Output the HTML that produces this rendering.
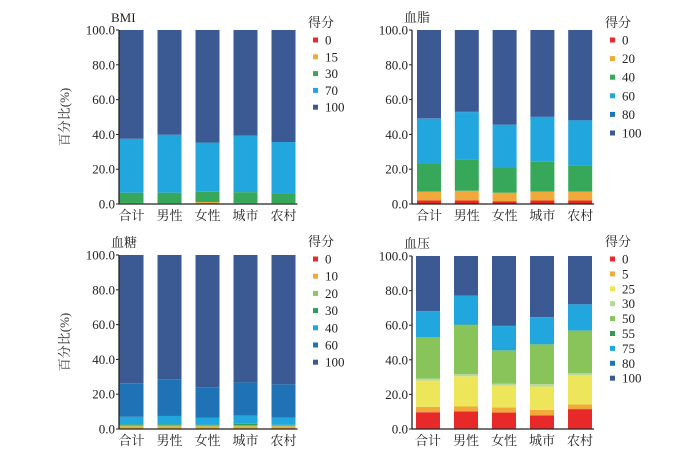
<!DOCTYPE html>
<html><head><meta charset="utf-8">
<style>
html,body{margin:0;padding:0;background:#fff;}
svg{display:block;font-family:"Liberation Serif","Noto Serif CJK SC","Noto Sans CJK SC",serif;}
</style></head>
<body>
<svg id="chart" width="693" height="450" viewBox="0 0 693 450"></svg>
<script>
const categories = ["合计","男性","女性","城市","农村"];
const yTicks = [0,20,40,60,80,100];

const bmiLabels = ["0","15","30","70","100"];
const bmiColors = ["#e8292a","#f2a93b","#37a85a","#21a6de","#3b5a93"];
const bmi0 = [0.2,0.2,0.2,0.2,0.2];
const bmi15 = [0.4,0.3,0.9,0.4,0.3];
const bmi30 = [5.9,6.0,5.9,6.2,5.5];
const bmi70 = [31.0,33.3,28.3,32.5,29.6];
const bmi100 = [62.5,60.2,64.7,60.7,64.4];

const lipLabels = ["0","20","40","60","80","100"];
const lipColors = ["#e8292a","#f2a93b","#37a85a","#21a6de","#1c74b9","#3b5a93"];
const lip0 = [2.0,2.0,1.6,2.0,2.0];
const lip20 = [5.2,5.6,4.9,5.2,5.2];
const lip40 = [15.8,17.9,14.5,17.1,15.0];
const lip60 = [26.0,27.3,24.5,25.7,25.8];
const lip80 = [0.2,0.2,0.2,0.2,0.2];
const lip100 = [50.8,47.0,54.3,49.8,51.8];

const gluLabels = ["0","10","20","30","40","60","100"];
const gluColors = ["#e8292a","#f2a93b","#8cc65e","#2e9d55","#21a6de","#1f72b5","#3b5a93"];
const glu0 = [0.3,0.3,0.3,0.3,0.3];
const glu10 = [1.2,1.2,1.2,1.2,1.2];
const glu20 = [0.6,0.6,0.6,0.6,0.6];
const glu30 = [0.6,0.6,0.4,0.9,0.3];
const glu40 = [4.3,4.8,4.1,4.8,4.1];
const glu60 = [19.3,21.1,17.4,19.0,19.2];
const glu100 = [73.7,71.4,76.0,73.2,74.3];

const bpLabels = ["0","5","25","30","50","55","75","80","100"];
const bpColors = ["#e8292a","#f2a93b","#ede65a","#b7d9a0","#88c45a","#2e9d55","#21a6de","#1c74b9","#3b5a93"];
const bp0 = [9.7,10.2,9.5,7.9,11.5];
const bp5 = [3.1,2.8,3.0,3.1,2.7];
const bp25 = [15.2,17.5,12.5,13.6,16.8];
const bp30 = [1.2,1.3,1.3,1.4,1.2];
const bp50 = [23.6,28.4,19.0,22.8,24.6];
const bp55 = [0.2,0.2,0.2,0.2,0.2];
const bp75 = [15.0,16.6,14.0,15.6,15.0];
const bp80 = [0.1,0.1,0.1,0.1,0.1];
const bp100 = [31.9,22.9,40.4,35.3,27.9];

const NS="http://www.w3.org/2000/svg";
const svg=document.getElementById('chart');
function mk(tag,attrs,parent){const e=document.createElementNS(NS,tag);for(const k in attrs)e.setAttribute(k,attrs[k]);(parent||svg).appendChild(e);return e;}

function panel(cfg){
  const g=mk('g',{});
  
  
  const y=v=>cfg.bottom-(v/100)*(cfg.bottom-cfg.top);
  const x=i=>cfg.axisX+cfg.gap+i*cfg.pitch;
  // bars
  categories.forEach((c,i)=>{
    let acc=0;
    cfg.series.forEach((s,k)=>{
      const v=s[i];
      const r=mk('rect',{x:x(i),y:y(acc+v),width:cfg.bw,height:Math.max(0,y(acc)-y(acc+v)),fill:cfg.colors[k]},g);
      
      
      acc+=v;
    });
    const t=mk('text',{x:x(i)+cfg.bw/2,y:cfg.bottom+16,'text-anchor':'middle','font-size':13,fill:'#222'},g);
    t.textContent=c;
    
    
  });
  // axes
  const ax=mk('line',{x1:cfg.axisX,y1:cfg.top,x2:cfg.axisX,y2:cfg.bottom,stroke:'#222','stroke-width':1.3},g);
  
  
  const bx=mk('line',{x1:cfg.axisX,y1:cfg.bottom,x2:x(4)+cfg.bw+2,y2:cfg.bottom,stroke:'#222','stroke-width':1.3},g);
  
  
  yTicks.forEach(v=>{
    mk('line',{x1:cfg.axisX-3,y1:y(v),x2:cfg.axisX,y2:y(v),stroke:'#222'},g);
    const t=mk('text',{x:cfg.axisX-4,y:y(v)+4.5,'text-anchor':'end','font-size':13,fill:'#222'},g);
    t.textContent=v.toFixed(1);
    
    
  });
  const tt=mk('text',{x:cfg.axisX-8,y:cfg.top-8,'font-size':13,fill:'#222'},g);
  tt.textContent=cfg.title;
  
  
  if(cfg.yTitle){
    const yt=mk('text',{x:0,y:0,'text-anchor':'middle','font-size':13,fill:'#333',transform:`translate(${cfg.axisX-50},${(cfg.top+cfg.bottom)/2}) rotate(-90)`},g);
    yt.textContent='百分比(%)';
    
    
  }
  const lt=mk('text',{x:cfg.legX-5,y:cfg.legY-13,'font-size':13,fill:'#222'},g);
  lt.textContent='得分';
  
  
  cfg.labels.forEach((l,k)=>{
    const ly=cfg.legY+k*cfg.legStep;
    const m=mk('rect',{x:cfg.legX,y:ly-2.5,width:5,height:5,fill:cfg.colors[k]},g);
    
    
    const t=mk('text',{x:cfg.legX+12,y:ly+4.5,'font-size':13,fill:'#222'},g);
    t.textContent=l;
    
    
  });
}
panel({name:'bmi',title:'BMI',axisX:119,gap:0.5,pitch:38,bw:24,top:30,bottom:204,yTitle:true,
  series:[bmi0,bmi15,bmi30,bmi70,bmi100],colors:bmiColors,labels:bmiLabels,legX:313,legY:40,legStep:16.8});
panel({name:'lipid',title:'血脂',axisX:412,gap:5,pitch:37.8,bw:24,top:30,bottom:204,yTitle:false,
  series:[lip0,lip20,lip40,lip60,lip80,lip100],colors:lipColors,labels:lipLabels,legX:610,legY:40,legStep:18.6});
panel({name:'glucose',title:'血糖',axisX:119,gap:0.5,pitch:38,bw:24,top:255,bottom:429,yTitle:true,
  series:[glu0,glu10,glu20,glu30,glu40,glu60,glu100],colors:gluColors,labels:gluLabels,legX:313,legY:259,legStep:17.2});
panel({name:'bp',title:'血压',axisX:412,gap:4,pitch:38,bw:24,top:256,bottom:429,yTitle:false,
  series:[bp0,bp5,bp25,bp30,bp50,bp55,bp75,bp80,bp100],colors:bpColors,labels:bpLabels,legX:610,legY:259,legStep:14.9});
</script>
</body></html>
